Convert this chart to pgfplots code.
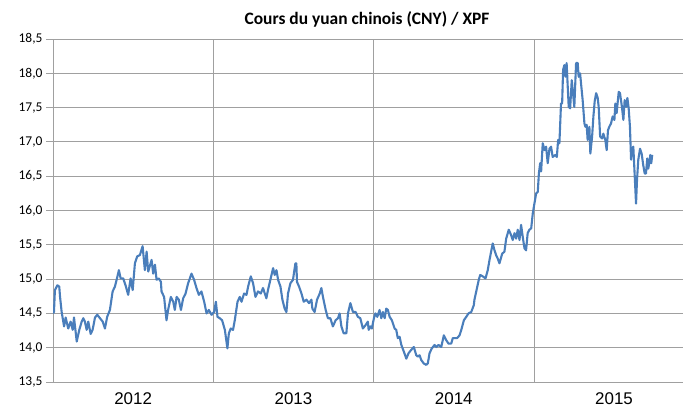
\documentclass[border=0pt]{standalone}
\usepackage{fontspec}
\setmainfont{Carlito}
\newfontfamily\arialfont{Liberation Sans}
\usepackage{pgfplots}
\pgfplotsset{compat=1.18}

\definecolor{cnyblue}{RGB}{74,126,187}
\definecolor{gridgray}{RGB}{160,160,160}

\begin{document}
\begin{tikzpicture}
\useasboundingbox (0,0) rectangle (683bp,407bp);
\node[font=\fontsize{17.5}{20}\selectfont\bfseries] at (367bp,388bp) {Cours du yuan chinois (CNY) / XPF};
\begin{axis}[
  at={(53bp,25bp)}, anchor=south west,
  scale only axis,
  width=630bp, height=343bp,
  xmin=2012, xmax=2015.93,
  ymin=13.5, ymax=18.5,
  axis lines*=left,
  axis line style={draw=gridgray, line width=0.8pt},
  xtick={2012.5,2013.5,2014.5,2015.5},
  xticklabels={2012,2013,2014,2015},
  xticklabel style={font=\arialfont\fontsize{17}{20}\selectfont},
  xtick style={draw=none},
  minor xtick={2013,2014,2015},
  xminorgrids=true,
  minor x grid style={draw=gridgray, line width=0.8pt},
  ytick={13.5,14,...,18.5},
  ymajorgrids=true,
  major grid style={draw=gridgray, line width=0.8pt},
  ytick style={draw=gridgray, line width=0.8pt},
  tick align=outside,
  major tick length=7bp,
  yticklabel style={font=\fontsize{13.5}{15}\selectfont},
  /pgf/number format/assume math mode=true,
  /pgf/number format/.cd, use comma, fixed, fixed zerofill, precision=1,
]
\addplot[cnyblue, line width=2.1bp, line join=round] coordinates {
(2012.000,14.50) (2012.006,14.52) (2012.012,14.84) (2012.027,14.91) (2012.039,14.89) (2012.044,14.74)
(2012.054,14.52) (2012.069,14.31) (2012.079,14.44) (2012.095,14.28) (2012.110,14.38) (2012.123,14.26)
(2012.131,14.44) (2012.148,14.09) (2012.164,14.26) (2012.179,14.38) (2012.189,14.43) (2012.199,14.38)
(2012.210,14.26) (2012.220,14.38) (2012.235,14.20) (2012.247,14.26) (2012.262,14.44) (2012.276,14.48)
(2012.293,14.43) (2012.310,14.38) (2012.324,14.28) (2012.338,14.45) (2012.355,14.55) (2012.372,14.82)
(2012.386,14.89) (2012.397,14.99) (2012.411,15.13) (2012.422,15.01) (2012.438,15.01) (2012.455,14.89)
(2012.469,14.77) (2012.484,15.01) (2012.497,14.84) (2012.511,15.23) (2012.525,15.33) (2012.542,15.35)
(2012.559,15.48) (2012.573,15.13) (2012.584,15.40) (2012.594,15.11) (2012.615,15.28) (2012.625,15.08)
(2012.636,15.21) (2012.646,14.99) (2012.660,15.01) (2012.673,14.96) (2012.677,14.82) (2012.693,14.74)
(2012.708,14.40) (2012.718,14.55) (2012.735,14.74) (2012.750,14.67) (2012.760,14.55) (2012.771,14.74)
(2012.785,14.70) (2012.798,14.55) (2012.812,14.72) (2012.827,14.79) (2012.843,14.94) (2012.864,15.08)
(2012.880,14.99) (2012.895,14.87) (2012.910,14.77) (2012.926,14.82) (2012.943,14.67) (2012.958,14.50)
(2012.972,14.55) (2012.989,14.48) (2013.005,14.52) (2013.016,14.67) (2013.026,14.45) (2013.040,14.43)
(2013.055,14.40) (2013.072,14.26) (2013.088,13.99) (2013.097,14.21) (2013.109,14.28) (2013.123,14.26)
(2013.134,14.40) (2013.151,14.67) (2013.165,14.74) (2013.176,14.67) (2013.192,14.79) (2013.207,14.77)
(2013.217,14.89) (2013.234,15.04) (2013.248,14.94) (2013.263,14.74) (2013.279,14.82) (2013.296,14.79)
(2013.310,14.87) (2013.331,14.72) (2013.341,14.84) (2013.356,14.99) (2013.373,15.16) (2013.383,15.06)
(2013.394,15.13) (2013.404,14.99) (2013.419,14.89) (2013.431,14.70) (2013.445,14.57) (2013.456,14.52)
(2013.466,14.79) (2013.481,14.94) (2013.497,14.99) (2013.512,15.23) (2013.518,15.23) (2013.522,14.96)
(2013.535,14.89) (2013.550,14.79) (2013.564,14.67) (2013.581,14.70) (2013.597,14.65) (2013.612,14.70)
(2013.618,14.57) (2013.632,14.52) (2013.647,14.70) (2013.664,14.79) (2013.674,14.87) (2013.684,14.74)
(2013.701,14.55) (2013.715,14.43) (2013.730,14.43) (2013.746,14.31) (2013.763,14.40) (2013.778,14.43)
(2013.788,14.50) (2013.799,14.31) (2013.813,14.21) (2013.830,14.21) (2013.840,14.50) (2013.855,14.65)
(2013.871,14.52) (2013.888,14.52) (2013.902,14.45) (2013.917,14.43) (2013.933,14.28) (2013.950,14.33)
(2013.964,14.38) (2013.969,14.26) (2013.981,14.31) (2013.989,14.28) (2014.002,14.43) (2014.011,14.50)
(2014.023,14.45) (2014.037,14.55) (2014.048,14.43) (2014.058,14.52) (2014.069,14.43) (2014.079,14.57)
(2014.089,14.55) (2014.100,14.45) (2014.114,14.40) (2014.131,14.28) (2014.141,14.26) (2014.151,14.14)
(2014.162,14.16) (2014.173,14.04) (2014.189,13.94) (2014.204,13.84) (2014.218,13.92) (2014.235,13.97)
(2014.251,14.01) (2014.266,13.89) (2014.276,13.87) (2014.287,13.89) (2014.297,13.82) (2014.313,13.77)
(2014.328,13.75) (2014.338,13.77) (2014.349,13.92) (2014.363,13.99) (2014.380,14.04) (2014.391,14.01)
(2014.405,14.04) (2014.422,14.01) (2014.438,14.18) (2014.453,14.11) (2014.467,14.06) (2014.484,14.06)
(2014.494,14.14) (2014.505,14.14) (2014.521,14.14) (2014.536,14.18) (2014.547,14.26) (2014.563,14.40)
(2014.578,14.45) (2014.592,14.50) (2014.609,14.52) (2014.625,14.62) (2014.629,14.70) (2014.656,14.99)
(2014.665,15.06) (2014.681,15.04) (2014.698,15.01) (2014.712,15.13) (2014.723,15.28) (2014.733,15.40)
(2014.743,15.52) (2014.754,15.42) (2014.764,15.35) (2014.774,15.30) (2014.785,15.23) (2014.802,15.37)
(2014.816,15.40) (2014.827,15.59) (2014.843,15.72) (2014.858,15.64) (2014.868,15.57) (2014.879,15.67)
(2014.889,15.59) (2014.899,15.72) (2014.910,15.57) (2014.920,15.79) (2014.930,15.62) (2014.941,15.45)
(2014.951,15.42) (2014.961,15.67) (2014.972,15.72) (2014.983,15.74) (2014.993,15.96) (2015.003,16.10)
(2015.014,16.25) (2015.024,16.27) (2015.031,16.54) (2015.039,16.69) (2015.045,16.57) (2015.055,16.98)
(2015.066,16.88) (2015.076,16.93) (2015.086,16.69) (2015.097,16.90) (2015.107,16.93) (2015.117,16.78)
(2015.134,16.81) (2015.143,16.78) (2015.151,17.03) (2015.159,16.98) (2015.169,17.56) (2015.176,17.56)
(2015.182,18.05) (2015.190,18.12) (2015.196,17.95) (2015.204,18.15) (2015.211,17.80) (2015.217,17.51)
(2015.226,17.49) (2015.236,17.90) (2015.242,17.76) (2015.252,17.51) (2015.263,18.15) (2015.273,18.15)
(2015.279,17.95) (2015.288,18.00) (2015.294,17.85) (2015.304,17.61) (2015.315,17.27) (2015.321,17.22)
(2015.329,17.25) (2015.335,17.03) (2015.346,17.22) (2015.352,16.83) (2015.363,17.08) (2015.371,17.37)
(2015.379,17.59) (2015.388,17.71) (2015.398,17.64) (2015.404,17.51) (2015.413,17.08) (2015.425,17.05)
(2015.433,17.12) (2015.445,17.03) (2015.454,16.88) (2015.462,17.17) (2015.470,17.22) (2015.481,17.27)
(2015.491,17.37) (2015.502,17.32) (2015.508,17.56) (2015.516,17.42) (2015.529,17.73) (2015.537,17.71)
(2015.549,17.51) (2015.558,17.32) (2015.566,17.61) (2015.575,17.51) (2015.583,17.64) (2015.591,17.49)
(2015.599,17.22) (2015.606,16.74) (2015.612,16.90) (2015.620,16.93) (2015.626,16.64) (2015.637,16.10)
(2015.643,16.44) (2015.651,16.74) (2015.662,16.90) (2015.672,16.83) (2015.682,16.66) (2015.691,16.54)
(2015.699,16.54) (2015.707,16.76) (2015.713,16.61) (2015.720,16.69) (2015.726,16.81) (2015.732,16.69)
(2015.738,16.81)
};
\end{axis}
\end{tikzpicture}
\end{document}
